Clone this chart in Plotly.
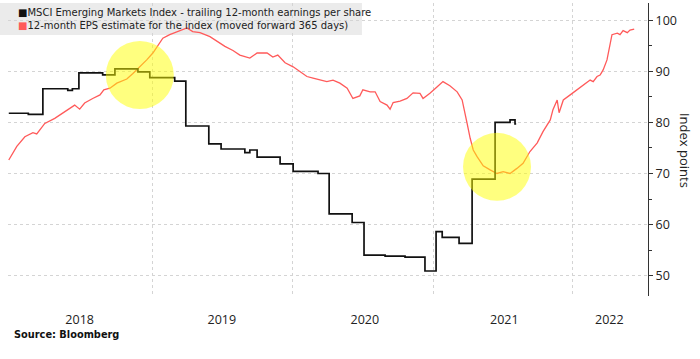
import plotly.graph_objects as go

# Trailing 12-month EPS (step series)
eps_dates = ["2017-12-21", "2018-02-10", "2018-03-20", "2018-05-24", "2018-06-05", "2018-06-22",
             "2018-08-23", "2018-09-24", "2018-11-23", "2018-12-24", "2019-02-27", "2019-03-28",
             "2019-05-27", "2019-06-28", "2019-08-29", "2019-09-11", "2019-09-30", "2019-11-29",
             "2020-01-02", "2020-03-07", "2020-04-05", "2020-06-04", "2020-07-05", "2020-08-29",
             "2020-10-20", "2020-12-11", "2021-01-09", "2021-01-25", "2021-03-10", "2021-04-13",
             "2021-06-12", "2021-07-21", "2021-08-03", "2021-08-06"]
eps_values = [81.8, 81.6, 86.6, 86.3, 86.6, 89.7,
              89.3, 90.5, 89.9, 88.8, 88.1, 79.3,
              75.8, 74.8, 74.1, 74.6, 73.2, 71.9,
              70.4, 70.0, 62.1, 60.4, 54.0, 53.8,
              53.6, 50.9, 58.6, 57.5, 56.3, 68.9,
              80.0, 80.5, 79.7, 79.7]

# 12-month EPS estimate, moved forward 365 days
est_dates = ["2017-12-21", "2018-01-11", "2018-02-01", "2018-02-22", "2018-03-04", "2018-03-25",
             "2018-04-20", "2018-05-16", "2018-06-11", "2018-06-24", "2018-07-07", "2018-07-28",
             "2018-08-16", "2018-08-26", "2018-09-11", "2018-09-29", "2018-10-25", "2018-11-10",
             "2018-11-28", "2018-12-16", "2019-01-01", "2019-01-19", "2019-01-27", "2019-02-14",
             "2019-03-05", "2019-03-31", "2019-04-15", "2019-05-04", "2019-05-30", "2019-06-25",
             "2019-07-08", "2019-07-29", "2019-08-16", "2019-09-11", "2019-09-30", "2019-10-26",
             "2019-11-10", "2019-11-23", "2019-12-12", "2020-01-02", "2020-01-20", "2020-02-07",
             "2020-02-23", "2020-03-12", "2020-03-30", "2020-04-15", "2020-05-03", "2020-05-22",
             "2020-06-06", "2020-06-24", "2020-07-02", "2020-07-21", "2020-08-03", "2020-08-16",
             "2020-09-03", "2020-09-11", "2020-09-19", "2020-10-07", "2020-10-25", "2020-11-10",
             "2020-11-28", "2020-12-06", "2020-12-24", "2021-01-12", "2021-01-27", "2021-02-14",
             "2021-03-05", "2021-03-18", "2021-03-26", "2021-03-31", "2021-04-08", "2021-04-16",
             "2021-04-26", "2021-05-12", "2021-05-30", "2021-06-17", "2021-07-03", "2021-07-21",
             "2021-08-08", "2021-08-24", "2021-09-11", "2021-09-30", "2021-10-15", "2021-11-03",
             "2021-11-10", "2021-11-21", "2021-11-26", "2021-12-07", "2021-12-25", "2022-01-12",
             "2022-01-28", "2022-02-15", "2022-02-23", "2022-03-05", "2022-03-13", "2022-03-21",
             "2022-03-31", "2022-04-08", "2022-04-13", "2022-04-27", "2022-05-04", "2022-05-12",
             "2022-05-23", "2022-05-30", "2022-06-10"]
est_values = [72.65, 75.3, 77.2, 78.0, 77.75, 79.8,
              80.8, 82.1, 83.4, 82.6, 83.8, 84.7,
              85.4, 86.4, 86.7, 87.7, 88.5, 89.6,
              90.9, 92.25, 93.6, 95.5, 96.5, 97.2,
              97.8, 98.5, 97.8, 97.6, 96.8, 95.5,
              94.9, 94.1, 93.2, 92.6, 93.6, 93.6,
              92.8, 93.2, 91.7, 90.9, 90.0, 89.0,
              88.7, 88.3, 88.0, 88.3, 87.7, 86.7,
              84.7, 85.2, 86.4, 86.0, 86.0, 84.1,
              83.4, 82.6, 83.9, 84.2, 84.7, 85.8,
              85.7, 84.7, 85.7, 87.0, 88.0, 87.2,
              86.0, 84.4, 81.8, 79.8, 76.9, 74.6,
              73.3, 71.5, 70.7, 70.0, 70.35, 70.0,
              71.0, 72.0, 74.3, 76.0, 78.2, 80.5,
              82.5, 84.4, 81.9, 84.4, 85.4, 86.4,
              87.4, 88.3, 88.0, 89.0, 89.3, 90.3,
              92.25, 95.5, 97.2, 97.5, 97.2, 98.0,
              97.6, 98.1, 98.3]

year_labels = ["2018", "2019", "2020", "2021", "2022"]
year_label_dates = ["2018-06-24", "2019-06-30", "2020-07-07", "2021-07-06", "2022-04-06"]
year_grid_dates = ["2019-01-01", "2020-01-01", "2021-01-01", "2022-01-01"]
y_ticks = [50, 60, 70, 80, 90, 100]

highlight_dates = ["2018-11-28", "2021-06-17"]
highlight_values = [89.3, 71.3]

legend_names = ["MSCI Emerging Markets Index - trailing 12-month earnings per share",
                "12-month EPS estimate for the index (moved forward 365 days)"]

BLACK = "#111111"
RED = "#ff5a5a"

fig = go.Figure()
fig.add_trace(go.Scatter(x=est_dates, y=est_values, mode="lines", line=dict(color=RED, width=1.3),
                         name=legend_names[1], showlegend=False))
fig.add_trace(go.Scatter(x=eps_dates, y=eps_values, mode="lines", line=dict(color=BLACK, width=1.7, shape="hv"),
                         name=legend_names[0], showlegend=False))

shapes = [dict(type="rect", xref="paper", yref="paper", x0=-0.0125, x1=0.553, y0=0.891, y1=1.0,
               fillcolor="#ebebeb", line=dict(width=0), layer="below")]
for d, v in zip(highlight_dates, highlight_values):
    shapes.append(dict(type="circle", xref="x", yref="y", xsizemode="pixel", ysizemode="pixel",
                       xanchor=d, yanchor=v, x0=-34, x1=34, y0=-34, y1=34,
                       fillcolor="rgba(255,255,0,0.5)", line=dict(width=0), layer="above"))

legend_text = (f"<span style='color:{BLACK}'>■</span>{legend_names[0]}<br>"
               f"<span style='color:{RED}'>■</span>{legend_names[1]}")

annotations = [
    dict(xref="paper", yref="paper", x=0.0125, y=0.9445, xanchor="left", yanchor="middle", showarrow=False,
         align="left", text=legend_text,
         font=dict(family="DejaVu Sans", size=10, color="#222")),
    dict(xref="paper", yref="paper", x=1.058, y=0.498, xanchor="center", yanchor="middle", showarrow=False,
         text="Index points", textangle=90, font=dict(family="Open Sans", size=13, color="#222")),
    dict(xref="paper", yref="paper", x=0.006, y=-0.13, xanchor="left", yanchor="middle", showarrow=False,
         text="<b>Source: Bloomberg</b>", font=dict(family="DejaVu Sans", size=9.8, color="#111")),
]

fig.update_layout(
    width=700, height=359,
    margin=dict(l=8, r=52, t=3, b=63),
    paper_bgcolor="white", plot_bgcolor="white",
    showlegend=False,
    shapes=shapes, annotations=annotations,
    font=dict(family="Open Sans", size=12.5, color="#222"),
)
fig.update_xaxes(
    type="date", range=["2017-12-19", "2022-07-16"],
    tickmode="array", tickvals=year_label_dates, ticktext=year_labels,
    showgrid=False, zeroline=False, showline=False,
    ticks="outside", ticklen=12, tickcolor="rgba(0,0,0,0)",
    tickfont=dict(family="Open Sans", size=12.5, color="#222"),
    minor=dict(tickmode="array", tickvals=year_grid_dates, showgrid=True, gridcolor="#d4d4d4",
               griddash="dot", gridwidth=1, ticks=""),
)
fig.update_yaxes(
    side="right", range=[46, 103.4], tickmode="array", tickvals=y_ticks,
    showgrid=True, gridcolor="#d4d4d4", griddash="dot", gridwidth=1, zeroline=False,
    showline=True, linecolor="#333", linewidth=1,
    ticks="outside", ticklen=4, tickcolor="#333",
    tickfont=dict(family="Open Sans", size=12.5, color="#222"),
    minor=dict(dtick=5, tick0=0, ticks="outside", ticklen=3, tickcolor="#333", showgrid=False),
)

fig.write_html("out.html", config={"displayModeBar": False},
               post_script="document.body.style.margin='0';")
